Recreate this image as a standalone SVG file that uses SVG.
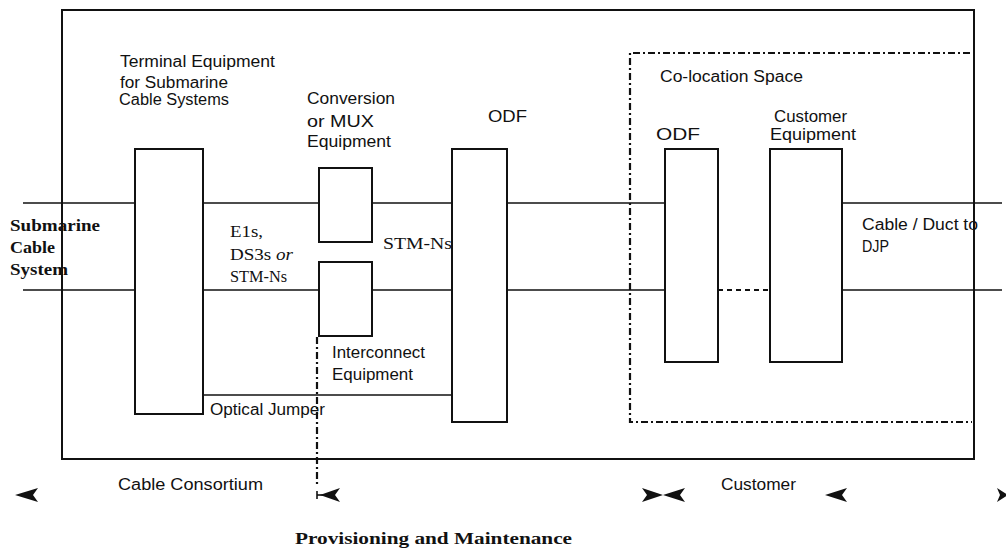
<svg xmlns="http://www.w3.org/2000/svg" width="1006" height="552" viewBox="0 0 1006 552">
<style>
.box{fill:#fff;stroke:#111;stroke-width:2}
.ln{stroke:#111;stroke-width:1.6;fill:none}
.dash{stroke:#111;stroke-width:2.2;fill:none;stroke-dasharray:7 3 2 3}
.dot{stroke:#111;stroke-width:1.8;fill:none;stroke-dasharray:5 4}
.s{font-family:"Liberation Sans",Arial,sans-serif;font-size:16px;fill:#111}
.r{font-family:"Liberation Serif","Times New Roman",serif;font-size:16px;fill:#111}
.b{font-family:"Liberation Serif","Times New Roman",serif;font-size:16px;font-weight:bold;fill:#111}
.ah{fill:#111}
</style>
<rect width="1006" height="552" fill="#fff"/>
<g id="frame">
<rect x="62" y="10" width="912" height="449" fill="none" stroke="#111" stroke-width="2"/>
</g>
<g id="connectors">
<line class="ln" x1="23" y1="203" x2="135" y2="203"/>
<line class="ln" x1="203" y1="203" x2="319" y2="203"/>
<line class="ln" x1="372" y1="203" x2="452" y2="203"/>
<line class="ln" x1="507" y1="203" x2="665" y2="203"/>
<line class="ln" x1="842" y1="203" x2="1002" y2="203"/>
<line class="ln" x1="23" y1="290" x2="135" y2="290"/>
<line class="ln" x1="203" y1="290" x2="319" y2="290"/>
<line class="ln" x1="372" y1="290" x2="452" y2="290"/>
<line class="ln" x1="507" y1="290" x2="665" y2="290"/>
<line class="dot" x1="718" y1="290" x2="770" y2="290"/>
<line class="ln" x1="842" y1="290" x2="1002" y2="290"/>
<line id="optical-jumper" class="ln" x1="203" y1="395" x2="452" y2="395"/>
<line class="dash" x1="317" y1="337" x2="317" y2="486"/>
</g>
<g id="colocation">
<path class="dash" d="M970 53 H630 V422 H972"/>
<text class="s" x="660" y="82" textLength="143" lengthAdjust="spacingAndGlyphs">Co-location Space</text>
</g>
<g id="terminal">
<rect class="box" x="135" y="149" width="68" height="265"/>
<text class="s" x="120" y="67" textLength="155" lengthAdjust="spacingAndGlyphs">Terminal Equipment</text>
<text class="s" x="120" y="88" textLength="108" lengthAdjust="spacingAndGlyphs">for Submarine</text>
<text class="s" x="119" y="105" textLength="110" lengthAdjust="spacingAndGlyphs">Cable Systems</text>
</g>
<g id="mux">
<rect class="box" x="319" y="168" width="53" height="74"/>
<text class="s" x="307" y="104" textLength="88" lengthAdjust="spacingAndGlyphs">Conversion</text>
<text class="s" x="307" y="127" textLength="67" lengthAdjust="spacingAndGlyphs">or MUX</text>
<text class="s" x="307" y="147" textLength="84" lengthAdjust="spacingAndGlyphs">Equipment</text>
</g>
<g id="interconnect">
<rect class="box" x="319" y="262" width="53" height="74"/>
<text class="s" x="332" y="358" textLength="93" lengthAdjust="spacingAndGlyphs">Interconnect</text>
<text class="s" x="332" y="380" textLength="81" lengthAdjust="spacingAndGlyphs">Equipment</text>
</g>
<g id="odf1">
<rect class="box" x="452" y="149" width="55" height="273"/>
<text class="s" x="488" y="122" textLength="39" lengthAdjust="spacingAndGlyphs">ODF</text>
</g>
<g id="odf2">
<rect class="box" x="665" y="149" width="53" height="213"/>
<text class="s" x="656" y="140" textLength="44" lengthAdjust="spacingAndGlyphs">ODF</text>
</g>
<g id="customer-equipment">
<rect class="box" x="770" y="149" width="72" height="213"/>
<text class="s" x="774" y="122" textLength="73" lengthAdjust="spacingAndGlyphs">Customer</text>
<text class="s" x="770" y="140" textLength="86" lengthAdjust="spacingAndGlyphs">Equipment</text>
</g>
<g id="labels">
<text class="r" font-weight="bold" x="10" y="231" textLength="90" lengthAdjust="spacingAndGlyphs">Submarine</text>
<text class="r" font-weight="bold" x="10" y="253" textLength="45" lengthAdjust="spacingAndGlyphs">Cable</text>
<text class="r" font-weight="bold" x="10" y="275" textLength="58" lengthAdjust="spacingAndGlyphs">System</text>
<text class="r" x="230" y="237" textLength="33" lengthAdjust="spacingAndGlyphs">E1s,</text>
<text class="r" x="230" y="260" textLength="63" lengthAdjust="spacingAndGlyphs">DS3s <tspan font-style="italic">or</tspan></text>
<text class="r" x="230" y="282" textLength="57" lengthAdjust="spacingAndGlyphs">STM-Ns</text>
<text class="r" x="383" y="249" textLength="69" lengthAdjust="spacingAndGlyphs">STM-Ns</text>
<text class="s" x="210" y="415" textLength="115" lengthAdjust="spacingAndGlyphs">Optical Jumper</text>
<text class="s" x="862" y="230" textLength="116" lengthAdjust="spacingAndGlyphs">Cable / Duct to</text>
<text class="s" x="862" y="252" textLength="27" lengthAdjust="spacingAndGlyphs">DJP</text>
<text class="s" x="118" y="490" textLength="145" lengthAdjust="spacingAndGlyphs">Cable Consortium</text>
<text class="s" x="721" y="490" textLength="75" lengthAdjust="spacingAndGlyphs">Customer</text>
<text class="b" x="295" y="544" textLength="277" lengthAdjust="spacingAndGlyphs">Provisioning and Maintenance</text>
</g>
<g id="arrows">
<polygon class="ah" points="15,495 38,488 33,495 38,502"/>
<line class="ln" x1="317" y1="495" x2="323" y2="495"/>
<line class="ln" x1="317" y1="491" x2="317" y2="499"/>
<polygon class="ah" points="320,495 340,488 335,495 340,502"/>
<polygon class="ah" points="663,495 642,488 647,495 642,502"/>
<polygon class="ah" points="663,495 685,488 680,495 685,502"/>
<polygon class="ah" points="825,495 847,488 842,495 847,502"/>
<polygon class="ah" points="1008,495 997,488 1000,495 997,502"/>
</g>
</svg>
